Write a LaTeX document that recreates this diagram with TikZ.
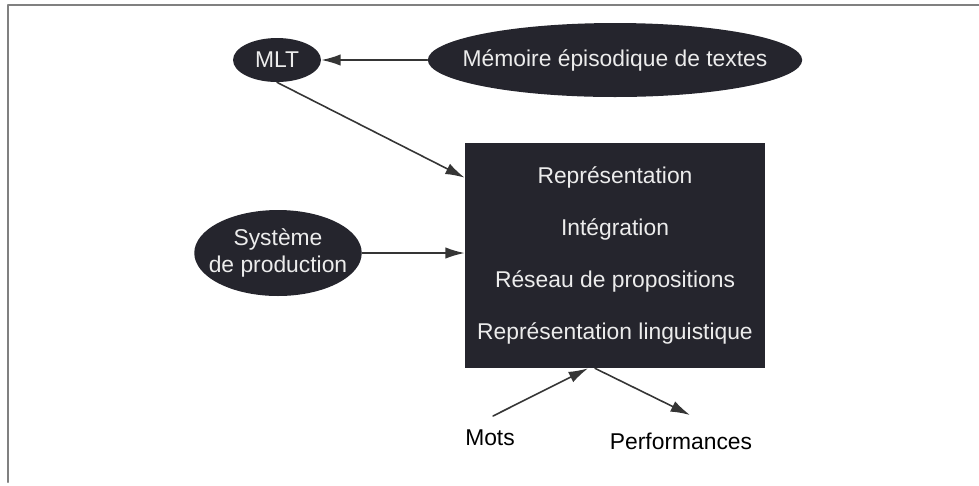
\documentclass[tikz,border=0pt]{standalone}
\usepackage{fontspec}
\setmainfont{Liberation Sans}
\usetikzlibrary{shapes.geometric,arrows.meta}
\definecolor{fond}{HTML}{25252D}
\definecolor{trait}{HTML}{353535}
\begin{document}
\begin{tikzpicture}[x=0.02cm,y=-0.02cm,line cap=round,line join=round,>={Latex[length=11pt,width=6.5pt]},font=\fontsize{13}{15}\selectfont,
  bulle/.style={ellipse,fill=fond,text=gray!15,inner sep=0pt,align=center},
  fleche/.style={->,draw=trait,line width=0.9pt}]
\useasboundingbox (0,0) rectangle (979,485);
%cadre
\draw[gray,line width=1.4pt] (8,482)--(8,5)--(979,5);
%ellipses
\node[bulle,minimum width=1.76cm,minimum height=0.88cm] (mlt) at (277,60) {MLT};
\node[bulle,inner xsep=-0.4cm,minimum height=1.48cm] (mem) at (615,60) {Mémoire épisodique de textes};
\node[bulle,inner xsep=-0.2cm,minimum height=1.72cm,font=\fontsize{13}{15.5}\selectfont] (sys) at (278,253) {Système\\de production};
%boîte centrale
\node[fill=fond,text=gray!15,minimum width=6cm,minimum height=4.5cm,align=center,font=\fontsize{13}{29.5}\selectfont] (box) at (615,255.5)
  {Représentation\\Intégration\\Réseau de propositions\\Représentation linguistique};
%entrée et sortie
\node (mots) at (490,438) {Mots};
\node (perf) at (681,441) {Performances};
\coordinate (motsdep) at (493,416);
\coordinate (perfarr) at (690,415);
%flèches
\draw[fleche] (mem.west)--(mlt.east);
\draw[fleche] (mlt.south)--([yshift=-0.7cm]box.north west);
\draw[fleche] (sys.east)--(sys.east-|box.west);
\draw[fleche] (motsdep)--([xshift=-0.54cm]box.south);
\draw[fleche] ([xshift=-0.4cm]box.south)--(perfarr);
\end{tikzpicture}
\end{document}
